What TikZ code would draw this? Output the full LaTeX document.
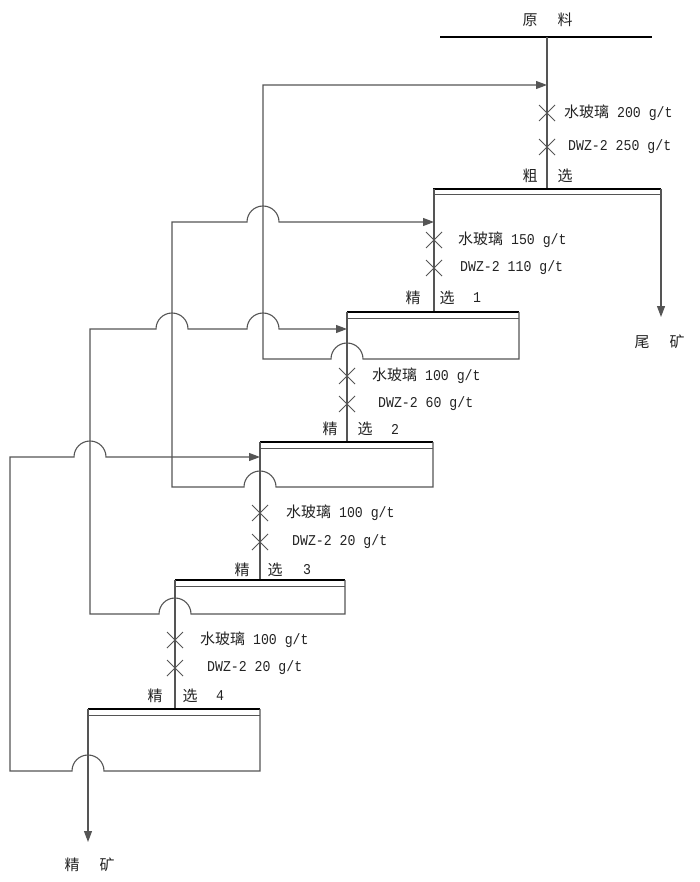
\documentclass[tikz,border=0pt]{standalone}
\usepackage{fontspec}
\setmainfont[FakeStretch=0.88]{Liberation Mono}
\newfontfamily\cjk{Noto Sans CJK SC}
\usetikzlibrary{arrows.meta}
\definecolor{linegray}{RGB}{85,85,85}
\definecolor{txt}{RGB}{35,35,35}
\begin{document}
\begin{tikzpicture}[x=1pt,y=1pt,
  flow/.style={draw=linegray,line width=1.1pt},
  thickbar/.style={draw=black,line width=2.8pt},
  thinbar/.style={draw=linegray,line width=1pt},
  arr/.style={-{Triangle[length=11pt,width=8pt]},draw=linegray,line width=1.1pt},
  lbl/.style={font=\cjk\fontsize{15}{15}\selectfont,text=txt,inner sep=0pt},
  num/.style={font=\fontsize{15}{15}\selectfont,text=txt,inner sep=0pt},
  dose/.style={font=\fontsize{15}{15}\selectfont,text=txt,inner sep=0pt,anchor=west},
  crossmark/.pic={\draw[draw=linegray,line width=1pt] (-8,-8)--(8,8) (-8,8)--(8,-8);}]
\useasboundingbox (0,0) rectangle (700,-882);

% feed bar
\coordinate (feedL) at (440,-37);
\coordinate (feedR) at (652,-37);
\coordinate (feedC) at (547,-37);
\draw[thickbar] (feedL) -- (feedR);
\node[lbl] (yuan) at (530,-20) {原};
\node[lbl] (liao) at (565,-20) {料};

% ---------- rougher ----------
\coordinate (rL) at (433,-189);
\coordinate (rR) at (661,-189);
\coordinate (rC) at (547,-189);
\draw[flow] (feedC) -- (rC);
\draw[thickbar] (rL) -- (rR);
\draw[thinbar] (433,-195) -- (661,-195);
\pic at (547,-113) {crossmark};
\pic at (547,-147) {crossmark};
\node[dose] (rd1) at (564,-113) {{\cjk 水玻璃} 200 g/t};
\node[dose] (rd2) at (568,-147) {DWZ-2 250 g/t};
\node[lbl] (rcu) at (530,-176) {粗};
\node[lbl] (rxu) at (565,-176) {选};
\coordinate (tail) at (661,-317);
\draw[arr] (rR) -- (tail);
\node[lbl] (wei) at (642,-342) {尾};
\node[lbl] (kuang1) at (677,-342) {矿};

% ---------- cleaner 1 ----------
\coordinate (c1L) at (347,-312);
\coordinate (c1R) at (519,-312);
\coordinate (c1C) at (434,-312);
\draw[flow] (434,-189) -- (c1C);
\draw[thickbar] (c1L) -- (c1R);
\draw[thinbar] (347,-318) -- (519,-318);
\pic at (434,-240) {crossmark};
\pic at (434,-268) {crossmark};
\node[dose] (c1d1) at (458,-240) {{\cjk 水玻璃} 150 g/t};
\node[dose] (c1d2) at (460,-268) {DWZ-2 110 g/t};
\node[lbl] (c1a) at (413,-298) {精};
\node[lbl] (c1b) at (447,-298) {选};
\node[num] (c1n) at (477,-298) {1};

% ---------- cleaner 2 ----------
\coordinate (c2L) at (260,-442);
\coordinate (c2R) at (433,-442);
\coordinate (c2C) at (347,-442);
\draw[flow] (c1L) -- (c2C);
\draw[thickbar] (c2L) -- (c2R);
\draw[thinbar] (260,-448) -- (433,-448);
\pic at (347,-376) {crossmark};
\pic at (347,-404) {crossmark};
\node[dose] (c2d1) at (372,-376) {{\cjk 水玻璃} 100 g/t};
\node[dose] (c2d2) at (378,-404) {DWZ-2 60 g/t};
\node[lbl] (c2a) at (330,-429) {精};
\node[lbl] (c2b) at (365,-429) {选};
\node[num] (c2n) at (395,-429) {2};

% ---------- cleaner 3 ----------
\coordinate (c3L) at (175,-580);
\coordinate (c3R) at (345,-580);
\coordinate (c3C) at (260,-580);
\draw[flow] (c2L) -- (c3C);
\draw[thickbar] (c3L) -- (c3R);
\draw[thinbar] (175,-586) -- (345,-586);
\pic at (260,-513) {crossmark};
\pic at (260,-542) {crossmark};
\node[dose] (c3d1) at (286,-513) {{\cjk 水玻璃} 100 g/t};
\node[dose] (c3d2) at (292,-542) {DWZ-2 20 g/t};
\node[lbl] (c3a) at (242,-570) {精};
\node[lbl] (c3b) at (275,-570) {选};
\node[num] (c3n) at (307,-570) {3};

% ---------- cleaner 4 ----------
\coordinate (c4L) at (88,-709);
\coordinate (c4R) at (260,-709);
\coordinate (c4C) at (175,-709);
\draw[flow] (c3L) -- (c4C);
\draw[thickbar] (c4L) -- (c4R);
\draw[thinbar] (88,-715) -- (260,-715);
\pic at (175,-640) {crossmark};
\pic at (175,-668) {crossmark};
\node[dose] (c4d1) at (200,-640) {{\cjk 水玻璃} 100 g/t};
\node[dose] (c4d2) at (207,-668) {DWZ-2 20 g/t};
\node[lbl] (c4a) at (155,-696) {精};
\node[lbl] (c4b) at (190,-696) {选};
\node[num] (c4n) at (220,-696) {4};
\coordinate (conc) at (88,-842);
\draw[arr] (c4L) -- (conc);
\node[lbl] (jing) at (72,-865) {精};
\node[lbl] (kuang2) at (107,-865) {矿};

% ---------- return streams ----------
% cleaner 1 tailings -> rougher feed
\draw[arr] (c1R) -- (519,-359) -- (363,-359) arc[start angle=0,end angle=180,radius=16]
  -- (263,-359) -- (263,-85) -- (547,-85);
% cleaner 2 tailings -> cleaner 1 feed
\draw[arr] (c2R) -- (433,-487) -- (276,-487) arc[start angle=0,end angle=180,radius=16]
  -- (172,-487) -- (172,-222) -- (247,-222) arc[start angle=180,end angle=0,radius=16]
  -- (434,-222);
% cleaner 3 tailings -> cleaner 2 feed
\draw[arr] (c3R) -- (345,-614) -- (191,-614) arc[start angle=0,end angle=180,radius=16]
  -- (90,-614) -- (90,-329) -- (156,-329) arc[start angle=180,end angle=0,radius=16]
  -- (247,-329) arc[start angle=180,end angle=0,radius=16] -- (347,-329);
% cleaner 4 tailings -> cleaner 3 feed
\draw[arr] (c4R) -- (260,-771) -- (104,-771) arc[start angle=0,end angle=180,radius=16]
  -- (10,-771) -- (10,-457) -- (74,-457) arc[start angle=180,end angle=0,radius=16]
  -- (260,-457);
\end{tikzpicture}
\end{document}
